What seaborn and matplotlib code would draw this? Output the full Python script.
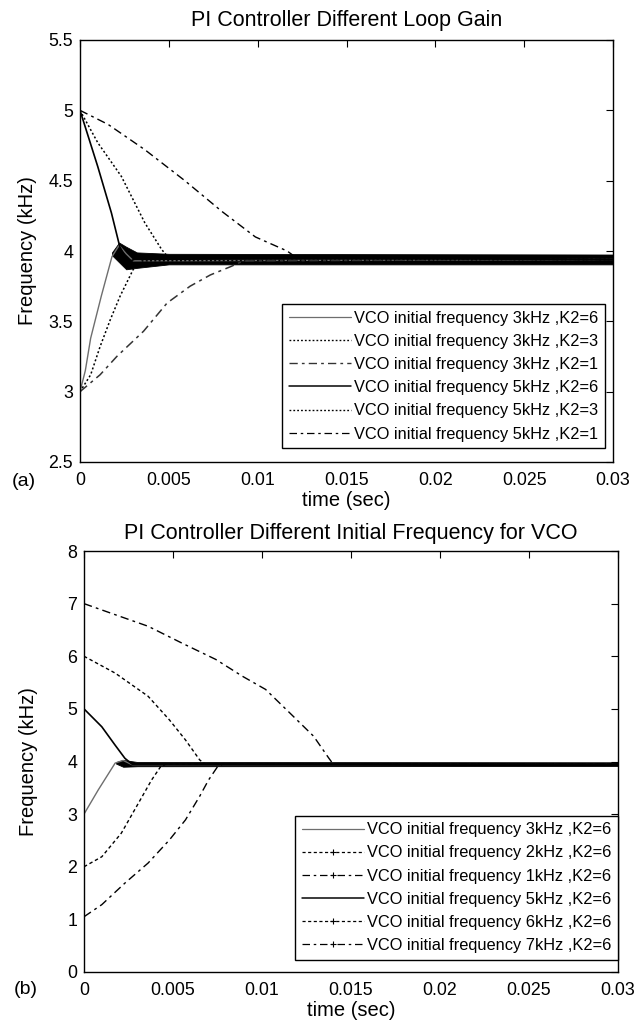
import numpy as np
import pandas as pd
import matplotlib
matplotlib.use("Agg")
import matplotlib.pyplot as plt
from matplotlib.lines import Line2D
import seaborn as sns

# ---------------- data ----------------
# Panel (a): PI controller, different loop gain
a_labels = ["VCO initial frequency 3kHz ,K2=6", "VCO initial frequency 3kHz ,K2=3",
            "VCO initial frequency 3kHz ,K2=1", "VCO initial frequency 5kHz ,K2=6",
            "VCO initial frequency 5kHz ,K2=3", "VCO initial frequency 5kHz ,K2=1"]
a3k6_t = [0.0, 0.0003, 0.0006, 0.0012, 0.0018, 0.0022, 0.0026, 0.0030, 0.03]
a3k6_f = [3.0, 3.15, 3.38, 3.68, 3.96, 4.04, 3.98, 3.93, 3.94]
a3k3_t = [0.0, 0.0006, 0.00113, 0.0017, 0.00226, 0.0030, 0.0035, 0.03]
a3k3_f = [3.0, 3.12, 3.32, 3.51, 3.68, 3.87, 3.93, 3.94]
a3k1_t = [0.0, 0.00113, 0.00207, 0.00358, 0.0049, 0.0062, 0.00734, 0.0085, 0.0092, 0.03]
a3k1_f = [3.0, 3.12, 3.25, 3.43, 3.63, 3.75, 3.83, 3.89, 3.93, 3.94]
a5k6_t = [0.0, 0.0010, 0.00177, 0.00224, 0.0027, 0.0032, 0.03]
a5k6_f = [5.0, 4.60, 4.27, 4.03, 3.92, 3.95, 3.94]
a5k3_t = [0.0, 0.0010, 0.00233, 0.00365, 0.0046, 0.0050, 0.03]
a5k3_f = [5.0, 4.77, 4.53, 4.20, 4.01, 3.95, 3.94]
a5k1_t = [0.0, 0.00158, 0.00365, 0.0059, 0.0080, 0.00987, 0.01166, 0.0122, 0.03]
a5k1_f = [5.0, 4.90, 4.72, 4.50, 4.28, 4.10, 4.00, 3.95, 3.94]
# steady-state oscillation band (a)
a_band_t = [0.0018, 0.0022, 0.0026, 0.0032, 0.0050, 0.0300]
a_band_lo = [3.97, 3.92, 3.87, 3.88, 3.905, 3.905]
a_band_hi = [3.99, 4.06, 4.03, 3.99, 3.98, 3.975]

# Panel (b): PI controller, different initial frequency for VCO
b_labels = ["VCO initial frequency 3kHz ,K2=6", "VCO initial frequency 2kHz ,K2=6",
            "VCO initial frequency 1kHz ,K2=6", "VCO initial frequency 5kHz ,K2=6",
            "VCO initial frequency 6kHz ,K2=6", "VCO initial frequency 7kHz ,K2=6"]
b3_t = [0.0, 0.0008, 0.00175, 0.0022, 0.0027, 0.03]
b3_f = [3.0, 3.46, 3.97, 4.02, 3.94, 3.95]
b2_t = [0.0, 0.0010, 0.0021, 0.00306, 0.0038, 0.0043, 0.0046, 0.03]
b2_f = [2.0, 2.19, 2.64, 3.21, 3.65, 3.90, 3.95, 3.95]
b1_t = [0.0, 0.0010, 0.0023, 0.0036, 0.0048, 0.0057, 0.0065, 0.0070, 0.0075, 0.0078, 0.03]
b1_f = [1.05, 1.28, 1.69, 2.07, 2.51, 2.89, 3.34, 3.65, 3.90, 3.95, 3.95]
b5_t = [0.0, 0.0010, 0.00175, 0.0023, 0.0027, 0.03]
b5_f = [5.0, 4.66, 4.31, 4.06, 3.95, 3.95]
b6_t = [0.0, 0.00175, 0.0036, 0.0048, 0.0057, 0.0065, 0.0068, 0.03]
b6_f = [6.0, 5.68, 5.24, 4.79, 4.41, 4.03, 3.95, 3.95]
b7_t = [0.0, 0.00175, 0.0036, 0.0055, 0.0074, 0.0089, 0.0102, 0.01157, 0.0129, 0.01374, 0.0140, 0.03]
b7_f = [7.0, 6.79, 6.57, 6.25, 5.94, 5.62, 5.37, 4.92, 4.48, 4.07, 3.95, 3.95]
b_band_t = [0.0018, 0.0022, 0.0030, 0.0300]
b_band_lo = [3.96, 3.90, 3.91, 3.915]
b_band_hi = [3.99, 4.03, 3.99, 3.985]

# axes ticks / labels
xticks = [0, 0.005, 0.01, 0.015, 0.02, 0.025, 0.03]
xticklabels = ["0", "0.005", "0.01", "0.015", "0.02", "0.025", "0.03"]
a_yticks = [2.5, 3, 3.5, 4, 4.5, 5, 5.5]
a_yticklabels = ["2.5", "3", "3.5", "4", "4.5", "5", "5.5"]
b_yticks = [0, 1, 2, 3, 4, 5, 6, 7, 8]
b_yticklabels = ["0", "1", "2", "3", "4", "5", "6", "7", "8"]

# ---------------- styling ----------------
sns.set_style("white")
plt.rcParams["font.family"] = ["Liberation Sans", "DejaVu Sans"]
plt.rcParams["axes.edgecolor"] = "black"
plt.rcParams["axes.labelcolor"] = "black"
plt.rcParams["xtick.color"] = "black"
plt.rcParams["ytick.color"] = "black"
plt.rcParams["axes.linewidth"] = 1.0
plt.rcParams["text.color"] = "black"

W, H = 639, 1032
fig = plt.figure(figsize=(W / 100, H / 100), dpi=100)
ax1 = fig.add_axes([80 / W, 1 - 462 / H, 533 / W, 422 / H])
ax2 = fig.add_axes([84 / W, 1 - 972 / H, 534 / W, 421 / H])

GRAY = "#6e6e6e"
DOT = (0, (1.3, 1.5))
DASHDOT = (0, (6, 3, 2, 3))
a_styles = [
    dict(color=GRAY, ls="-", lw=1.0),
    dict(color="black", ls=DOT, lw=1.1),
    dict(color="#333333", ls=DASHDOT, lw=1.1),
    dict(color="black", ls="-", lw=1.2),
    dict(color="black", ls=DOT, lw=1.1),
    dict(color="black", ls=DASHDOT, lw=1.0),
]
b_styles = [
    dict(color=GRAY, ls="-", lw=1.0, marker=None),
    dict(color="black", ls=(0, (2.5, 2)), lw=1.0, marker="+"),
    dict(color="black", ls=DASHDOT, lw=1.0, marker="+"),
    dict(color="black", ls="-", lw=1.2, marker=None),
    dict(color="black", ls=(0, (2.5, 2)), lw=1.0, marker="+"),
    dict(color="black", ls=DASHDOT, lw=1.0, marker="+"),
]

a_series = [(a3k6_t, a3k6_f), (a3k3_t, a3k3_f), (a3k1_t, a3k1_f),
            (a5k6_t, a5k6_f), (a5k3_t, a5k3_f), (a5k1_t, a5k1_f)]
b_series = [(b3_t, b3_f), (b2_t, b2_f), (b1_t, b1_f),
            (b5_t, b5_f), (b6_t, b6_f), (b7_t, b7_f)]


def draw(ax, series, styles, labels, band_t, band_lo, band_hi):
    for (t, f), st, lab in zip(series, styles, labels):
        df = pd.DataFrame({"t": t, "f": f})
        sns.lineplot(data=df, x="t", y="f", ax=ax, estimator=None, sort=False,
                     color=st["color"], linestyle=st["ls"], linewidth=st["lw"],
                     legend=False)
    ax.fill_between(band_t, band_lo, band_hi, color="black", lw=0.6)
    handles = [Line2D([], [], color=st["color"], linestyle=st["ls"],
                      linewidth=st["lw"] * 0.9, marker=st.get("marker"),
                      markersize=4, markeredgewidth=0.8)
               for st in styles]
    return handles


def style_axes(ax, yticks, yticklabels, ylim):
    ax.set_xlim(0, 0.03)
    ax.set_ylim(*ylim)
    ax.set_xticks(xticks)
    ax.set_xticklabels(xticklabels)
    ax.set_yticks(yticks)
    ax.set_yticklabels(yticklabels)
    ax.tick_params(direction="in", length=5, width=0.8, top=True, right=True,
                   labelsize=12.8, colors="black")
    ax.tick_params(axis="x", pad=7)
    ax.tick_params(axis="y", pad=5)
    for s in ax.spines.values():
        s.set_visible(True)
        s.set_color("black")
        s.set_linewidth(1.0)
    ax.set_xlabel("time (sec)", fontsize=14.5, labelpad=2)
    ax.set_ylabel("Frequency (kHz)", fontsize=14.5)


LEG = dict(loc="lower right", borderaxespad=0, fontsize=11.8, frameon=True,
           fancybox=False, edgecolor="black", framealpha=1, handlelength=3.8,
           handletextpad=0.2, labelspacing=0.5, borderpad=0.4)

h1 = draw(ax1, a_series, a_styles, a_labels, a_band_t, a_band_lo, a_band_hi)
style_axes(ax1, a_yticks, a_yticklabels, (2.5, 5.5))
ax1.yaxis.set_label_coords(-0.08, 0.5)
ax1.set_title("PI Controller Different Loop Gain", fontsize=15.5, pad=10)
leg1 = ax1.legend(h1, a_labels, bbox_to_anchor=(0.985, 0.033), **LEG)
leg1.get_frame().set_linewidth(1.0)

h2 = draw(ax2, b_series, b_styles, b_labels, b_band_t, b_band_lo, b_band_hi)
style_axes(ax2, b_yticks, b_yticklabels, (0, 8))
ax2.yaxis.set_label_coords(-0.087, 0.5)
ax2.set_title("PI Controller Different Initial Frequency for VCO", fontsize=15.5, pad=9)
leg2 = ax2.legend(h2, b_labels, bbox_to_anchor=(1.0, 0.029), **LEG)
leg2.get_frame().set_linewidth(1.0)

fig.text(12 / W, 1 - 482 / H, "(a)", fontsize=14, ha="left", va="center")
fig.text(14 / W, 1 - 990 / H, "(b)", fontsize=14, ha="left", va="center")

fig.savefig("out.png", dpi=100, facecolor="white")
